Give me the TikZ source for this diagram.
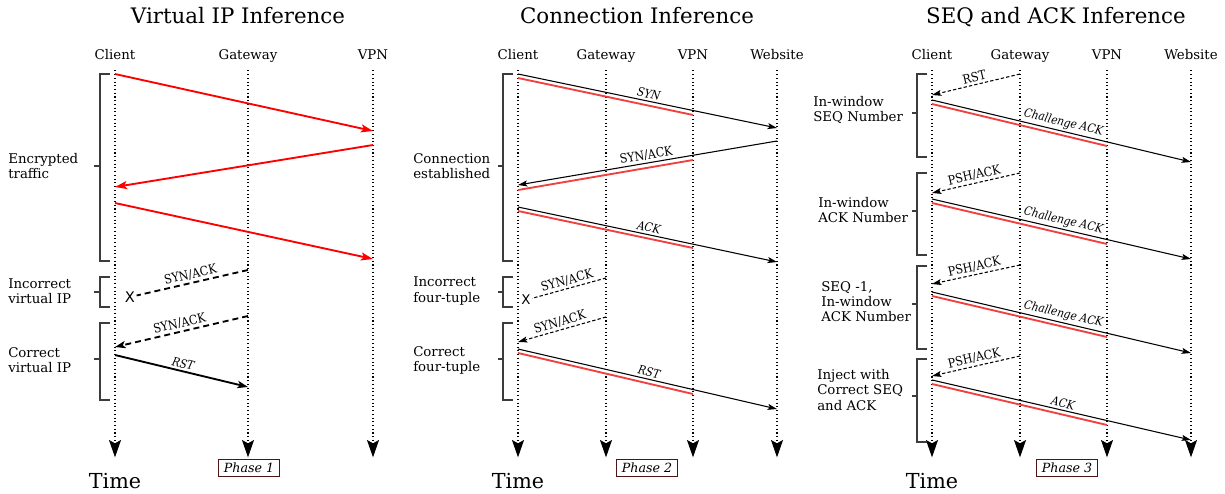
\documentclass[tikz,border=0pt]{standalone}
\usepackage{fontspec}
\setmainfont{DejaVu Serif}
\setsansfont{DejaVu Sans}
\newfontfamily\condserif[FakeStretch=0.88]{DejaVu Serif}
\usetikzlibrary{arrows.meta}

\definecolor{tracered}{RGB}{240,64,64}
\definecolor{boxbrown}{RGB}{80,20,20}
\definecolor{bracegray}{RGB}{60,60,60}

\tikzset{
  title/.style={font=\fontsize{16}{19}\selectfont, anchor=base},
  party/.style={font=\fontsize{10}{12}\selectfont, anchor=base},
  timelbl/.style={font=\fontsize{15.5}{18}\selectfont, anchor=base},
  phase/.style={draw=boxbrown, fill=white, line width=0.8pt, inner xsep=4pt, inner ysep=2.5pt,
    font=\fontsize{9.5}{11}\selectfont\itshape},
  stage/.style={anchor=west, align=left, inner xsep=0pt, font=\fontsize{10}{11.3}\selectfont},
  bracket/.style={draw=bracegray, line width=0.9pt},
  lifeline/.style={dotted, line width=0.8pt, -{Stealth[length=13pt,width=9pt,inset=2.5pt]}},
  cross/.style={font=\sffamily\fontsize{11}{12}\selectfont, inner sep=1pt},
  lbl/.style={sloped, above, midway, inner sep=1.5pt, font=\condserif\itshape\fontsize{9}{10}\selectfont},
  plainlbl/.style={sloped, above, midway, inner sep=1.5pt, font=\condserif\fontsize{9.5}{10}\selectfont},
  redarrow/.style={draw=red, line width=1.4pt, -{Stealth[length=9pt,width=6pt,inset=2pt]}},
  thickarrow/.style={draw=black, line width=1.4pt, -{Stealth[length=8pt,width=5.5pt,inset=2pt]}},
  thickdash/.style={draw=black, line width=1.4pt, dash pattern=on 4.5pt off 3pt, -{Stealth[length=8pt,width=5.5pt,inset=2pt]}},
  msg/.style={draw=black, line width=0.8pt, -{Stealth[length=7pt,width=4.5pt,inset=1.5pt]}},
  dashmsg/.style={draw=black, line width=0.8pt, dash pattern=on 2.5pt off 1.6pt, -{Stealth[length=7pt,width=4.5pt,inset=1.5pt]}},
  redline/.style={draw=tracered, line width=1.4pt}
}

\begin{document}
\begin{tikzpicture}[x=0.75pt,y=-0.75pt]
  \useasboundingbox (0,0) rectangle (1225,493);

  % titles
  \node[title] (t1) at (238,23)  {Virtual IP Inference};
  \node[title] (t2) at (637,23)  {Connection Inference};
  \node[title] (t3) at (1056,23) {SEQ and ACK Inference};

  % ---------------- Virtual IP Inference
  \node[party] (c1) at (115,59) {Client};
  \node[party] (g1) at (248,59) {Gateway};
  \node[party] (v1) at (373,59) {VPN};
  \draw[lifeline] ([yshift=-8.5pt]c1.base) -- ++(0,387);
  \draw[lifeline] ([yshift=-8.5pt]g1.base) -- ++(0,387);
  \draw[lifeline] ([yshift=-8.5pt]v1.base) -- ++(0,387);

  \draw[bracket] (110,74) -| (100,261) -- (110,261) (100,166) -- (94,166);
  \draw[bracket] (110,277) -| (100,307) -- (110,307) (100,292) -- (94,292);
  \draw[bracket] (110,323) -| (100,400) -- (110,400) (100,359) -- (94,359);
  \node[stage] (s11) at (8,166) {Encrypted\\traffic};
  \node[stage] (s12) at (8,291) {Incorrect\\virtual IP};
  \node[stage] (s13) at (8,360) {Correct\\virtual IP};

  \coordinate (a1) at (115,74);  \coordinate (b1) at (373,131);
  \coordinate (a2) at (373,145); \coordinate (b2) at (115,187);
  \coordinate (a3) at (115,203); \coordinate (b3) at (373,259);
  \coordinate (a4) at (248,270); \node[cross] (x1) at (130,297) {X};
  \coordinate (a5) at (248,316); \coordinate (b5) at (115,347);
  \coordinate (a6) at (115,355); \coordinate (b6) at (248,387);

  \path (a1) edge[redarrow] (b1);
  \path (a2) edge[redarrow] (b2);
  \path (a3) edge[redarrow] (b3);
  \path (a4) edge[thickdash, -] node[plainlbl] {SYN/ACK} (x1);
  \path (a5) edge[thickdash] node[plainlbl] {SYN/ACK} (b5);
  \path (a6) edge[thickarrow] node[lbl] {RST} (b6);

  \node[timelbl] (time1) at (115,488) {Time};
  \node[phase] (ph1) at (249,468) {Phase 1};

  % ---------------- Connection Inference
  \node[party] (c2) at (518,59) {Client};
  \node[party] (g2) at (606,59) {Gateway};
  \node[party] (v2) at (693,59) {VPN};
  \node[party] (w2) at (777,59) {Website};
  \draw[lifeline] ([yshift=-8.5pt]c2.base) -- ++(0,387);
  \draw[lifeline] ([yshift=-8.5pt]g2.base) -- ++(0,387);
  \draw[lifeline] ([yshift=-8.5pt]v2.base) -- ++(0,387);
  \draw[lifeline] ([yshift=-8.5pt]w2.base) -- ++(0,387);

  \draw[bracket] (513,74) -| (503,261) -- (513,261) (503,166) -- (498,166);
  \draw[bracket] (513,277) -| (503,307) -- (513,307) (503,292) -- (498,292);
  \draw[bracket] (513,323) -| (503,400) -- (513,400) (503,359) -- (498,359);
  \node[stage] (s21) at (413,166) {Connection\\established};
  \node[stage] (s22) at (413,291) {Incorrect\\four-tuple};
  \node[stage] (s23) at (413,360) {Correct\\four-tuple};

  \coordinate (a7) at (518,74);   \coordinate (b7) at (777,128);
  \coordinate (r7) at (518,78);   \coordinate (q7) at (693,115);
  \coordinate (a8) at (777,141);  \coordinate (b8) at (518,185);
  \coordinate (r8) at (693,160);  \coordinate (q8) at (518,190);
  \coordinate (a9) at (518,207);  \coordinate (b9) at (777,262);
  \coordinate (r9) at (518,211);  \coordinate (q9) at (693,248);
  \coordinate (a10) at (606,278); \node[cross, font=\sffamily\fontsize{10}{11}\selectfont] (x2) at (526,300) {X};
  \coordinate (a11) at (606,317); \coordinate (b11) at (518,342);
  \coordinate (a12) at (518,349); \coordinate (b12) at (777,409);
  \coordinate (r12) at (518,353); \coordinate (q12) at (693,394);

  \path (r7) edge[redline] (q7);
  \path (r8) edge[redline] (q8);
  \path (r9) edge[redline] (q9);
  \path (r12) edge[redline] (q12);
  \path (a7) edge[msg] node[lbl] {SYN} (b7);
  \path (a8) edge[msg] node[plainlbl] {SYN/ACK} (b8);
  \path (a9) edge[msg] node[lbl] {ACK} (b9);
  \path (a10) edge[dashmsg, -] node[plainlbl] {SYN/ACK} (x2);
  \path (a11) edge[dashmsg] node[plainlbl] {SYN/ACK} (b11);
  \path (a12) edge[msg] node[lbl] {RST} (b12);

  \node[timelbl] (time2) at (518,488) {Time};
  \node[phase] (ph2) at (647,468) {Phase 2};

  % ---------------- SEQ and ACK Inference
  \node[party] (c3) at (932,59)  {Client};
  \node[party] (g3) at (1020,59) {Gateway};
  \node[party] (v3) at (1107,59) {VPN};
  \node[party] (w3) at (1191,59) {Website};
  \draw[lifeline] ([yshift=-8.5pt]c3.base) -- ++(0,387);
  \draw[lifeline] ([yshift=-8.5pt]g3.base) -- ++(0,387);
  \draw[lifeline] ([yshift=-8.5pt]v3.base) -- ++(0,387);
  \draw[lifeline] ([yshift=-8.5pt]w3.base) -- ++(0,387);

  \draw[bracket] (927,74) -| (917,157) -- (927,157) (917,113) -- (912,113);
  \draw[bracket] (927,173) -| (917,255) -- (927,255) (917,211) -- (912,211);
  \draw[bracket] (927,266) -| (917,349) -- (927,349) (917,304) -- (912,304);
  \draw[bracket] (927,359) -| (917,442) -- (927,442) (917,396) -- (912,396);
  \node[stage] (s31) at (813,110) {In-window\\SEQ Number};
  \node[stage] (s32) at (818,210) {In-window\\ACK Number};
  \node[stage] (s33) at (821,302) {SEQ -1,\\In-window\\ACK Number};
  \node[stage] (s34) at (817,390) {Inject with\\Correct SEQ\\and ACK};

  \coordinate (a13) at (1020,74);  \coordinate (b13) at (932,95);
  \coordinate (a14) at (932,100);  \coordinate (b14) at (1191,162);
  \coordinate (r14) at (932,104);  \coordinate (q14) at (1107,146);
  \coordinate (a15) at (1020,173); \coordinate (b15) at (932,193);
  \coordinate (a16) at (932,199);  \coordinate (b16) at (1191,259);
  \coordinate (r16) at (932,203);  \coordinate (q16) at (1107,244);
  \coordinate (a17) at (1020,265); \coordinate (b17) at (932,284);
  \coordinate (a18) at (932,292);  \coordinate (b18) at (1191,353);
  \coordinate (r18) at (932,296);  \coordinate (q18) at (1107,337);
  \coordinate (a19) at (1020,356); \coordinate (b19) at (932,376);
  \coordinate (a20) at (932,380);  \coordinate (b20) at (1191,440);
  \coordinate (r20) at (932,384);  \coordinate (q20) at (1107,425);

  \path (r14) edge[redline] (q14);
  \path (r16) edge[redline] (q16);
  \path (r18) edge[redline] (q18);
  \path (r20) edge[redline] (q20);
  \path (a13) edge[dashmsg] node[plainlbl] {RST} (b13);
  \path (a14) edge[msg] node[lbl] {Challenge ACK} (b14);
  \path (a15) edge[dashmsg] node[plainlbl] {PSH/ACK} (b15);
  \path (a16) edge[msg] node[lbl] {Challenge ACK} (b16);
  \path (a17) edge[dashmsg] node[plainlbl] {PSH/ACK} (b17);
  \path (a18) edge[msg] node[lbl] {Challenge ACK} (b18);
  \path (a19) edge[dashmsg] node[plainlbl] {PSH/ACK} (b19);
  \path (a20) edge[msg] node[lbl] {ACK} (b20);

  \node[timelbl] (time3) at (932,488) {Time};
  \node[phase] (ph3) at (1067,468) {Phase 3};

\end{tikzpicture}
\end{document}
